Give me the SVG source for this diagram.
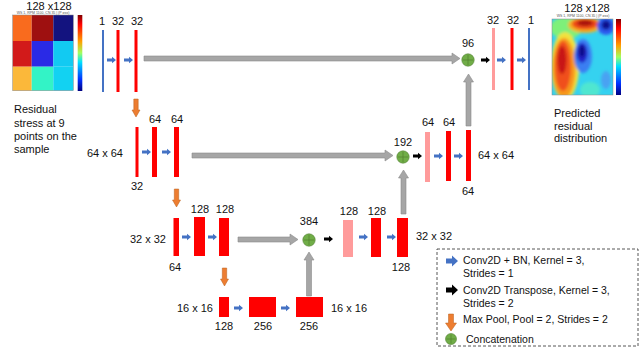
<svg xmlns="http://www.w3.org/2000/svg" xmlns:xlink="http://www.w3.org/1999/xlink" width="640" height="348" viewBox="0 0 640 348">
<style>
text{font-family:"Liberation Sans",Arial,sans-serif;fill:#111}
.lb{font-size:11px;text-anchor:middle}
.ls{font-size:11px}
.le{font-size:11px;text-anchor:end}
.lg{font-size:10.5px}
.tiny{font-size:3.5px;fill:#555;text-anchor:middle}
.red{fill:#ff0000}
.pink{fill:#ff9b9b}
.bl{fill:#4472c4}
.bk{fill:#000}
.gr{fill:#a6a6a6;stroke:#8c8c8c;stroke-width:0.6}
.or{fill:#ed7d31;stroke:#b8601e;stroke-width:0.5}
</style>
<defs>
<path id="arB" d="M0,-1.6H5V-3.3L9,0L5,3.3V1.6H0Z"/>
<g id="cc"><circle r="6.2" fill="#70ad47" stroke="#548235" stroke-width="0.6"/><path d="M-5,0H5M0,-5V5" stroke="#4e7a2e" stroke-width="0.6"/></g>
<path id="arO" d="M-2.2,0H2.2V11H4L0,18L-4,11H-2.2Z"/>
<linearGradient id="jet" x1="0" y1="0" x2="0" y2="1">
<stop offset="0" stop-color="#800000"/><stop offset="0.12" stop-color="#ff0000"/><stop offset="0.35" stop-color="#ffa000"/><stop offset="0.5" stop-color="#a0ff60"/><stop offset="0.62" stop-color="#00e0ff"/><stop offset="0.85" stop-color="#0030ff"/><stop offset="1" stop-color="#000080"/>
</linearGradient>
<filter id="blur" x="-20%" y="-20%" width="140%" height="140%"><feGaussianBlur stdDeviation="1.4"/></filter>
<clipPath id="rclip"><rect x="552" y="19" width="61" height="76"/></clipPath>
</defs>

<g id="input-image">
<text x="49" y="9.5" class="lb">128 x128</text>
<text x="43" y="13.5" class="tiny">WS 1, RPM 1100, CN 35 | (P σxx)</text>
<rect x="12.7" y="15" width="19" height="26" fill="#f96b1e"/>
<rect x="31.7" y="15" width="21.6" height="26" fill="#9e1010"/>
<rect x="53.3" y="15" width="20" height="26" fill="#13137f"/>
<rect x="12.7" y="41" width="19" height="25.7" fill="#d21a1a"/>
<rect x="31.7" y="41" width="21.6" height="25.7" fill="#2a2ae6"/>
<rect x="53.3" y="41" width="20" height="25.7" fill="#12caf2"/>
<rect x="12.7" y="66.7" width="19" height="24" fill="#fbb83a"/>
<rect x="31.7" y="66.7" width="21.6" height="24" fill="#33f3c6"/>
<rect x="53.3" y="66.7" width="20" height="24" fill="#12d2f2"/>
<rect x="12.7" y="15" width="60.6" height="75.7" fill="none" stroke="#888" stroke-width="0.5"/>
<rect x="77.7" y="15" width="4.6" height="76" fill="url(#jet)"/>
<text x="14" y="113" class="ls">Residual</text>
<text x="14" y="127" class="ls">stress at 9</text>
<text x="14" y="140" class="ls">points on the</text>
<text x="14" y="153" class="ls">sample</text>
</g>

<g id="output-image">
<text x="587" y="12" class="lb">128 x128</text>
<text x="583" y="17" class="tiny">WS 1, RPM 1100, CN 35 | (P σxx)</text>
<g clip-path="url(#rclip)">
<rect x="552" y="19" width="61" height="76" fill="#35d2f0"/>
<g filter="url(#blur)">
<ellipse cx="566" cy="28" rx="16" ry="11" fill="#7ef07a"/>
<ellipse cx="590" cy="90" rx="10" ry="8" fill="#50e6d0"/>
<ellipse cx="565" cy="66" rx="14" ry="34" fill="#f2e23c"/>
<ellipse cx="564" cy="68" rx="11.5" ry="30" fill="#f7981e"/>
<ellipse cx="563" cy="66" rx="8" ry="25" fill="#f0501a"/>
<ellipse cx="562" cy="60" rx="4.5" ry="14" fill="#c81212"/>
<ellipse cx="585" cy="25" rx="17" ry="8" fill="#f5b020"/>
<ellipse cx="585" cy="24" rx="13" ry="5.5" fill="#ee4818"/>
<ellipse cx="585" cy="23" rx="8" ry="3" fill="#a81010"/>
<ellipse cx="606" cy="26" rx="9" ry="9" fill="#2a58ee"/>
<ellipse cx="606" cy="25" rx="4.5" ry="4.5" fill="#10108e"/>
<ellipse cx="583" cy="56" rx="9" ry="17" fill="#3a7ef2"/>
<ellipse cx="582" cy="53" rx="5.5" ry="10" fill="#2020c8"/>
<ellipse cx="582" cy="51" rx="3" ry="6" fill="#10108a"/>
<ellipse cx="606" cy="80" rx="5" ry="9" fill="#4aa2f2"/>
</g>
</g>
<rect x="552" y="19" width="61" height="76" fill="none" stroke="#888" stroke-width="0.5"/>
<rect x="616" y="19" width="5" height="76" fill="url(#jet)"/>
<text x="554" y="117" class="ls">Predicted</text>
<text x="554" y="130" class="ls">residual</text>
<text x="554" y="142" class="ls">distribution</text>
</g>

<g id="enc1">
<rect x="102" y="30" width="2" height="62" class="bl"/>
<rect x="116.5" y="30" width="3" height="62" class="red"/>
<rect x="134.5" y="30" width="3" height="62" class="red"/>
<text x="102" y="25" class="lb">1</text>
<text x="118" y="25" class="lb">32</text>
<text x="137" y="25" class="lb">32</text>
</g>
<g id="enc2">
<rect x="135.5" y="127" width="3" height="50" class="red"/>
<rect x="152" y="127" width="5" height="50" class="red"/>
<rect x="174" y="127" width="5" height="50" class="red"/>
<text x="155" y="123" class="lb">64</text>
<text x="177" y="123" class="lb">64</text>
<text x="123" y="157" class="le">64 x 64</text>
<text x="137" y="190" class="lb">32</text>
</g>
<g id="enc3">
<rect x="173.5" y="218" width="5.5" height="38" class="red"/>
<rect x="194" y="217" width="11" height="39" class="red"/>
<rect x="219" y="218" width="10" height="38" class="red"/>
<text x="200" y="213" class="lb">128</text>
<text x="225" y="213" class="lb">128</text>
<text x="166" y="243" class="le">32 x 32</text>
<text x="175" y="271" class="lb">64</text>
</g>
<g id="bottleneck">
<rect x="219" y="297" width="10" height="20" class="red"/>
<rect x="249" y="297" width="27" height="20" class="red"/>
<rect x="296" y="297" width="27" height="20" class="red"/>
<text x="213" y="312" class="le">16 x 16</text>
<text x="331" y="312" class="ls">16 x 16</text>
<text x="224" y="330" class="lb">128</text>
<text x="263" y="330" class="lb">256</text>
<text x="309" y="330" class="lb">256</text>
</g>
<g id="dec3">
<rect x="343" y="220" width="10" height="37" class="pink"/>
<rect x="371" y="218" width="10" height="39" class="red"/>
<rect x="397" y="218" width="11" height="39" class="red"/>
<text x="349" y="215" class="lb">128</text>
<text x="377" y="215" class="lb">128</text>
<text x="416" y="240" class="ls">32 x 32</text>
<text x="401" y="271" class="lb">128</text>
</g>
<g id="dec2">
<rect x="425" y="132" width="5" height="50" class="pink"/>
<rect x="446" y="131" width="5" height="50" class="red"/>
<rect x="466" y="130" width="5" height="51" class="red"/>
<text x="428" y="126" class="lb">64</text>
<text x="449" y="126" class="lb">64</text>
<text x="478" y="159" class="ls">64 x 64</text>
<text x="468" y="195" class="lb">64</text>
</g>
<g id="dec1">
<rect x="492" y="28" width="3" height="62" class="pink"/>
<rect x="510.5" y="28" width="3" height="62" class="red"/>
<rect x="528" y="28" width="2" height="62" class="bl"/>
<text x="493" y="24" class="lb">32</text>
<text x="513" y="24" class="lb">32</text>
<text x="531" y="24" class="lb">1</text>
</g>
<g id="concat-96"><use xlink:href="#cc" x="468" y="60"/><text x="468" y="47" class="lb">96</text></g>
<g id="concat-192"><use xlink:href="#cc" x="403" y="157"/><text x="403" y="146" class="lb">192</text></g>
<g id="concat-384"><use xlink:href="#cc" x="309" y="240"/><text x="309" y="225" class="lb">384</text></g>

<g id="connectors">
<use xlink:href="#arB" x="107" y="60" class="bl"/>
<use xlink:href="#arB" x="124" y="60" class="bl"/>
<use xlink:href="#arB" x="142" y="152" class="bl"/>
<use xlink:href="#arB" x="162" y="152" class="bl"/>
<use xlink:href="#arB" x="182" y="237" class="bl"/>
<use xlink:href="#arB" x="208" y="237" class="bl"/>
<use xlink:href="#arB" x="234" y="308" class="bl"/>
<use xlink:href="#arB" x="281" y="308" class="bl"/>
<use xlink:href="#arB" x="359" y="237" class="bl"/>
<use xlink:href="#arB" x="387" y="237" class="bl"/>
<use xlink:href="#arB" x="434" y="156" class="bl"/>
<use xlink:href="#arB" x="454" y="156" class="bl"/>
<use xlink:href="#arB" x="497" y="60" class="bl"/>
<use xlink:href="#arB" x="517" y="60" class="bl"/>
<use xlink:href="#arB" x="324" y="239" class="bk"/>
<use xlink:href="#arB" x="413" y="156" class="bk"/>
<use xlink:href="#arB" x="481" y="60" class="bk"/>
<use xlink:href="#arO" x="136" y="99" class="or"/>
<use xlink:href="#arO" x="176.5" y="189" class="or"/>
<use xlink:href="#arO" x="224.5" y="268" class="or"/>
<path class="gr" d="M144,56H452V53L460,58.5L452,64V61H144Z"/>
<path class="gr" d="M192,153H385V150L393,155.5L385,161V158H192Z"/>
<path class="gr" d="M238,237H290V234L298,239.5L290,245V242H238Z"/>
<path class="gr" d="M306.5,296V260H304L309,252L314,260H311.5V296Z"/>
<path class="gr" d="M401,214V178H398.5L403.5,170L408.5,178H406V214Z"/>
<path class="gr" d="M466,126V82H463.5L468.5,74L473.5,82H471V126Z"/>
</g>

<g id="legend">
<rect x="437" y="249" width="201" height="97" fill="none" stroke="#444" stroke-width="0.9" stroke-dasharray="3,2"/>
<path d="M446,258.5H452V255.5L458,261L452,266.5V263.5H446Z" class="bl"/>
<text x="463" y="264" class="lg">Conv2D + BN, Kernel = 3,</text>
<text x="463" y="277" class="lg">Strides = 1</text>
<path d="M446,287.5H452V284.5L458,290L452,295.5V292.5H446Z" class="bk"/>
<text x="463" y="294" class="lg">Conv2D Transpose, Kernel = 3,</text>
<text x="463" y="307" class="lg">Strides = 2</text>
<path d="M448.5,314H453.5V323H456.5L451,331L445.5,323H448.5Z" class="or"/>
<text x="463" y="323" class="lg">Max Pool, Pool = 2, Strides = 2</text>
<circle cx="451" cy="339" r="5.5" fill="#70ad47" stroke="#548235" stroke-width="0.6"/>
<path d="M446.5,339H455.5M451,334.5V343.5" stroke="#4e7a2e" stroke-width="0.6"/>
<text x="466" y="343" class="lg">Concatenation</text>
</g>
</svg>
